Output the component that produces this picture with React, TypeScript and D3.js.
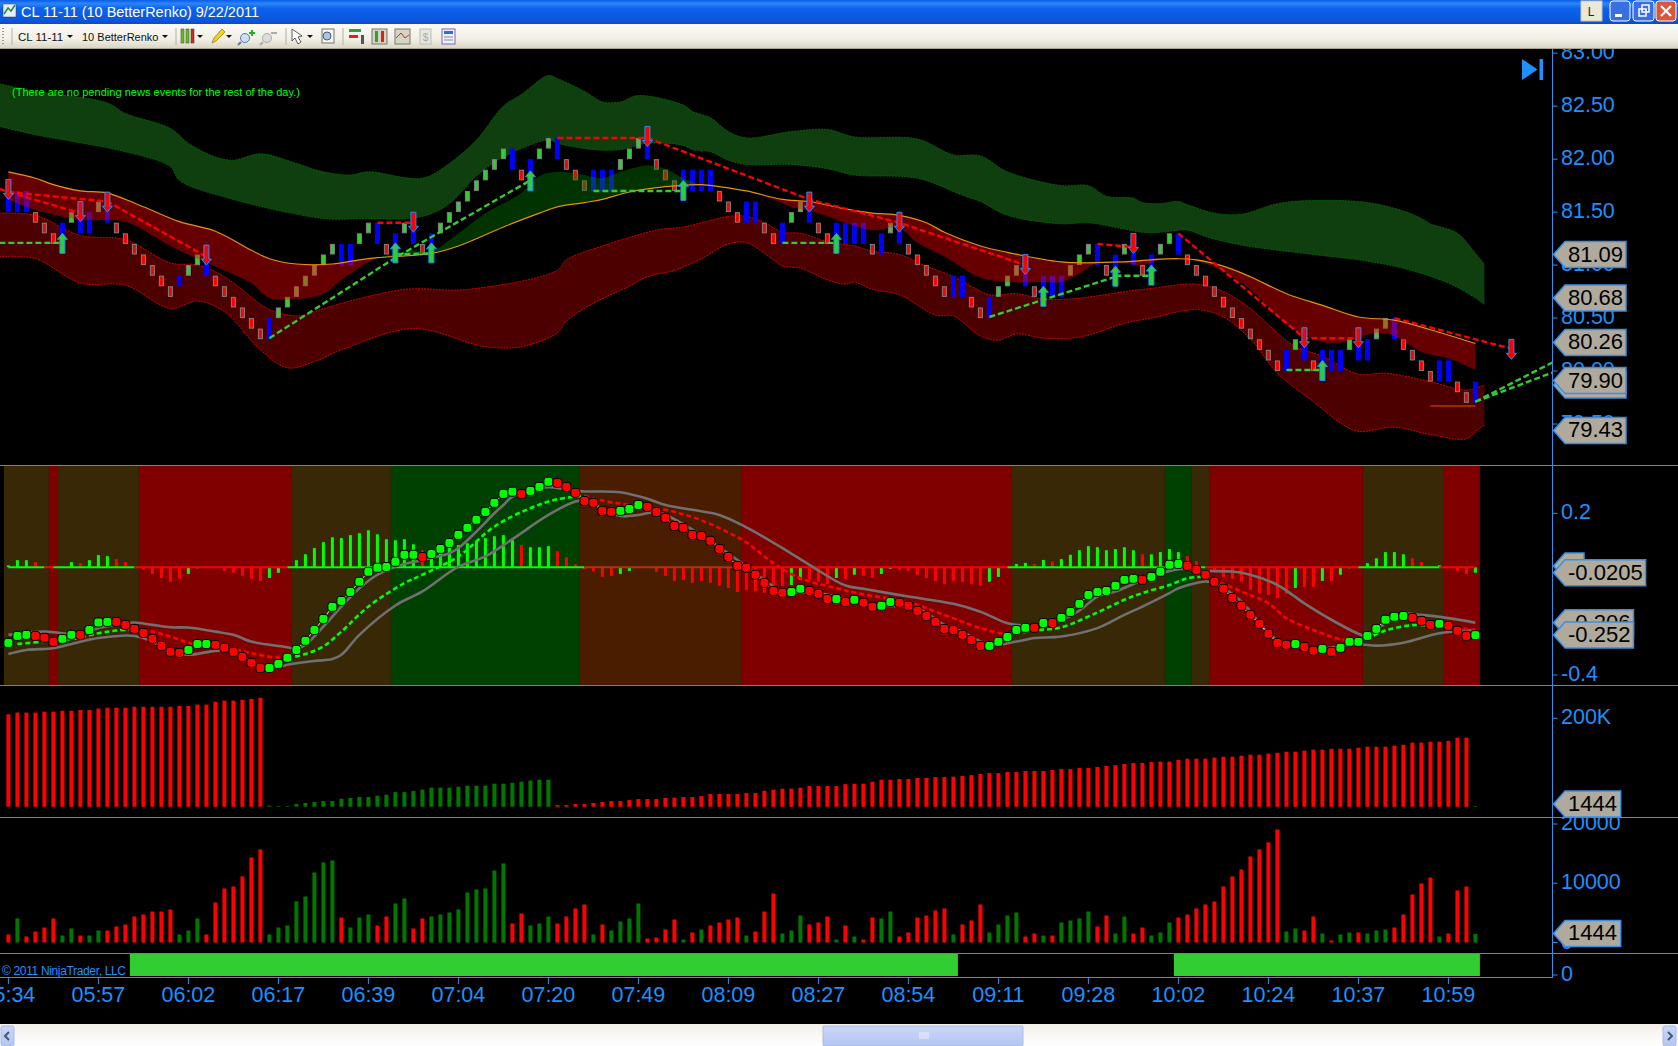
import React from "react";
import { curveCatmullRom, curveLinear, line, scaleLinear } from "d3";

type Anchor = [number, number];

// one letter per renko bar: R red, G green, B blue (two bricks), b blue (one brick)
const brickKinds =
  "BBBRRRBGBB" + "GBRRRRRRRb" + "GGBRRRRRRB" + "GGGGGGGBBG" + "GBRBGBRBGG" + "GGGGGGBRBG" + "GBRRRBBBGG" + "GBRRRBBBBR" +
  "RRBBRRBGGB" + "RRBBBBRBGB" + "RRRRRBBRRB" + "GGGBRBBBGG" + "GBRBGBRBGG" + "BRRRRRRRRR" + "RRBGBRBBBG" + "BBGGBRRRRB" + "BRRB";

const brickHigh = [
  81.7, 81.7, 81.7, 81.5, 81.4, 81.3, 81.4, 81.5, 81.5, 81.5,
  81.6, 81.6, 81.4, 81.3, 81.2, 81.1, 81.0, 80.9, 80.8, 80.9,
  81.0, 81.1, 81.1, 80.9, 80.8, 80.7, 80.6, 80.5, 80.4, 80.5,
  80.6, 80.7, 80.8, 80.9, 81.0, 81.1, 81.2, 81.2, 81.2, 81.3,
  81.4, 81.4, 81.2, 81.3, 81.4, 81.4, 81.2, 81.3, 81.4, 81.5,
  81.6, 81.7, 81.8, 81.9, 82.0, 82.1, 82.1, 81.9, 82.0, 82.1,
  82.2, 82.2, 82.0, 81.9, 81.8, 81.9, 81.9, 81.9, 82.0, 82.1,
  82.2, 82.2, 82.0, 81.9, 81.8, 81.9, 81.9, 81.9, 81.9, 81.7,
  81.6, 81.5, 81.6, 81.6, 81.4, 81.3, 81.4, 81.5, 81.6, 81.6,
  81.4, 81.3, 81.4, 81.4, 81.4, 81.4, 81.2, 81.3, 81.4, 81.4,
  81.2, 81.1, 81.0, 80.9, 80.8, 80.9, 80.9, 80.7, 80.6, 80.7,
  80.8, 80.9, 81.0, 81.0, 80.8, 80.9, 80.9, 80.9, 81.0, 81.1,
  81.2, 81.2, 81.0, 81.1, 81.2, 81.2, 81.0, 81.1, 81.2, 81.3,
  81.3, 81.1, 81.0, 80.9, 80.8, 80.7, 80.6, 80.5, 80.4, 80.3,
  80.2, 80.1, 80.2, 80.3, 80.3, 80.1, 80.2, 80.2, 80.2, 80.3,
  80.3, 80.3, 80.4, 80.5, 80.5, 80.3, 80.2, 80.1, 80.0, 80.1,
  80.1, 79.9, 79.8, 79.9
];

const greenBandTop: Anchor[] = [
  [-1, 82.71], [3, 82.64], [11, 82.53], [13, 82.43], [18, 82.29], [20, 82.15], [23, 82.02], [25, 81.99], [28, 82.05],
  [32, 81.96], [35, 81.88], [38, 81.85], [40, 81.88], [46, 81.82], [49, 81.96], [52, 82.18], [55, 82.5], [57, 82.61],
  [60, 82.79], [61, 82.76], [64, 82.64], [66, 82.54], [68, 82.54], [70, 82.6], [75, 82.51], [76, 82.45], [78, 82.39],
  [80, 82.26], [82, 82.2], [87, 82.26], [91, 82.28], [94, 82.21], [101, 82.19], [105, 82.04], [108, 82.03], [111, 81.88],
  [117, 81.75], [120, 81.75], [122, 81.65], [125, 81.63], [126, 81.59], [128, 81.58], [130, 81.6], [131, 81.57],
  [134, 81.49], [137, 81.48], [141, 81.58], [145, 81.61], [151, 81.59], [155, 81.51], [157, 81.44], [158, 81.39],
  [161, 81.3], [163, 81.11], [164, 81.01]
];
const greenBandBottom: Anchor[] = [
  [-1, 82.31], [3, 82.23], [7, 82.17], [13, 82.07], [18, 81.93], [19, 81.8], [25, 81.62], [35, 81.44], [39, 81.44],
  [46, 81.46], [49, 81.58], [52, 81.84], [55, 82.02], [60, 82.18], [61, 82.15], [65, 82.09], [68, 82.09], [71, 82.15],
  [75, 82.13], [76, 82.09], [78, 82.07], [80, 81.99], [82, 81.95], [87, 81.95], [91, 81.91], [94, 81.85], [101, 81.82],
  [106, 81.66], [108, 81.6], [111, 81.47], [117, 81.39], [120, 81.4], [124, 81.34], [126, 81.31], [128, 81.31],
  [131, 81.33], [133, 81.27], [137, 81.19], [145, 81.1], [150, 81.05], [155, 80.97], [160, 80.83], [163, 80.69], [164, 80.63]
];
const orangeLine: Anchor[] = [
  [0, 81.88], [3, 81.82], [5, 81.76], [8, 81.7], [11, 81.68], [15, 81.55], [19, 81.41], [23, 81.32], [27, 81.14],
  [29, 81.06], [32, 81.01], [36, 81.01], [39, 81.05], [41, 81.07], [47, 81.11], [50, 81.18], [55, 81.36], [59, 81.49],
  [61, 81.55], [64, 81.59], [66, 81.62], [69, 81.69], [73, 81.74], [77, 81.76], [79, 81.74], [82, 81.7], [86, 81.62],
  [89, 81.6], [93, 81.53], [96, 81.49], [99, 81.47], [102, 81.4], [104, 81.31], [108, 81.18], [111, 81.12], [117, 81.03],
  [124, 81.03], [127, 81.05], [130, 81.06], [132, 81.05], [135, 80.99], [138, 80.89], [142, 80.73], [146, 80.62],
  [150, 80.51], [154, 80.48], [158, 80.39], [163, 80.26]
];
const midLine: Anchor[] = [
  [0, 81.62], [3, 81.52], [8, 81.43], [13, 81.41], [18, 81.18], [21, 81.06], [24, 80.95], [27, 80.83], [29, 80.69],
  [32, 80.68], [35, 80.73], [37, 80.86], [40, 81.03], [41, 81.07], [43, 81.11], [45, 81.14], [47, 81.13], [50, 81.3],
  [53, 81.49], [57, 81.68], [59, 81.84], [61, 81.88], [64, 81.85], [66, 81.82], [68, 81.88], [71, 81.94], [73, 81.91],
  [75, 81.82], [77, 81.76], [79, 81.74], [82, 81.7], [85, 81.62], [87, 81.55], [90, 81.49], [93, 81.4], [96, 81.33],
  [99, 81.35], [101, 81.21], [104, 81.08], [108, 80.88], [111, 80.84], [115, 80.84], [117, 80.84], [119, 80.92],
  [121, 81.02], [124, 81.02], [126, 81.0], [128, 81.05], [130, 81.06], [132, 81.04], [135, 80.94], [138, 80.77],
  [142, 80.44], [144, 80.34], [147, 80.26], [149, 80.29], [152, 80.36], [154, 80.33], [157, 80.18], [160, 80.12], [163, 80.01]
];
const redBandTop: Anchor[] = [
  [-1, 81.49], [3, 81.47], [8, 81.28], [13, 81.24], [18, 81.02], [21, 81.0], [24, 80.89], [29, 80.58], [32, 80.52],
  [33, 80.53], [35, 80.59], [44, 80.77], [51, 80.77], [61, 80.95], [62, 81.05], [66, 81.18], [72, 81.33], [75, 81.36],
  [77, 81.4], [80, 81.46], [82, 81.46], [84, 81.4], [86, 81.31], [88, 81.3], [91, 81.22], [94, 81.18], [96, 81.13],
  [99, 81.1], [102, 80.99], [105, 80.89], [107, 80.8], [109, 80.72], [112, 80.73], [115, 80.68], [118, 80.68], [121, 80.71],
  [124, 80.75], [127, 80.78], [132, 80.82], [135, 80.75], [138, 80.59], [141, 80.36], [143, 80.23], [146, 80.14],
  [150, 79.97], [153, 79.98], [158, 79.9], [162, 79.82], [164, 79.87]
];
const redBandBottom: Anchor[] = [
  [-1, 81.08], [3, 81.06], [8, 80.83], [13, 80.81], [18, 80.59], [21, 80.66], [24, 80.56], [28, 80.2], [31, 80.03],
  [34, 80.09], [37, 80.2], [45, 80.4], [53, 80.23], [57, 80.23], [61, 80.36], [62, 80.47], [65, 80.64], [69, 80.8],
  [71, 80.89], [74, 80.95], [77, 81.06], [80, 81.2], [82, 81.21], [85, 81.05], [86, 80.99], [88, 80.97], [91, 80.86],
  [93, 80.82], [94, 80.84], [96, 80.77], [99, 80.72], [103, 80.53], [105, 80.52], [108, 80.33], [110, 80.29], [112, 80.35],
  [115, 80.31], [119, 80.32], [124, 80.45], [127, 80.5], [132, 80.58], [135, 80.51], [138, 80.3], [141, 79.98], [145, 79.71],
  [148, 79.51], [150, 79.43], [154, 79.47], [158, 79.4], [162, 79.36], [163, 79.43], [164, 79.49]
];

const redTrends: Anchor[][] = [
  [[-1, 81.72], [0, 81.69], [11, 81.6], [22, 81.08]],
  [[0, 81.69], [8, 81.49]],
  [[41, 81.4], [45, 81.4]],
  [[61, 82.2], [71, 82.2], [89, 81.62], [99, 81.4], [113, 81.0]],
  [[121, 81.2], [125, 81.17]],
  [[130, 81.3], [144, 80.31], [150, 80.31]],
  [[154, 80.5], [167, 80.21]]
];
const greenTrends: Anchor[][] = [
  [[-1, 81.21], [6, 81.21]],
  [[29, 80.31], [43, 81.07], [58, 81.8]],
  [[43, 81.1], [47, 81.11]],
  [[65, 81.7], [75, 81.7]],
  [[86, 81.21], [92, 81.21]],
  [[109, 80.51], [123, 80.89]],
  [[123, 80.9], [127, 80.9]],
  [[142, 80.01], [146, 80.01]],
  [[163, 79.71], [172, 80.1]],
  [[163, 79.71], [172, 80.0]]
];
const stopLine: Anchor[] = [[158, 79.67], [163, 79.67]];
const downArrows: Anchor[] = [
  [0, 81.62], [8, 81.41], [11, 81.5], [22, 81.0], [45, 81.31], [71, 82.12], [89, 81.5], [99, 81.31], [113, 80.91],
  [125, 81.11], [144, 80.22], [150, 80.22], [167, 80.11]
];
const upArrows: Anchor[] = [
  [6, 81.3], [43, 81.21], [47, 81.21], [58, 81.89], [75, 81.8], [92, 81.3], [115, 80.8], [123, 80.99], [127, 81.0], [146, 80.1]
];

// oscillator panel, values in thousandths
const regionStarts = [0, 5, 6, 15, 32, 43, 64, 82, 112, 129, 132, 134, 151, 160, 164];
const regionKinds = ["olive", "red", "olive", "red", "olive", "green", "brown", "red", "olive", "green", "olive", "red", "olive", "red"];

const oscUp =
  "GGGRRRGGRG" + "GGRRRRRRRR" + "GGGRRRRRRG" + "GGGGGGGGGG" + "GGGGGGRGGG" + "GGGGGGGRGG" + "GRRRRRRRGG" + "GRRRRRRRRR" +
  "RRRRRRRGGR" + "RRGRGRRGGR" + "RRRRRRRRRG" + "GGGGRGRGGG" + "GGGGGGRGGG" + "GRRRRRRRRR" + "RRRGRRGRGG" + "GGGGGGRRRG" + "RRRG";

const oscDots = [
  -281, -255, -251, -255, -262, -277, -266, -251, -251, -233,
  -205, -203, -203, -214, -229, -244, -266, -292, -314, -318,
  -307, -285, -285, -288, -299, -314, -333, -355, -374, -374,
  -359, -336, -307, -273, -233, -192, -147, -125, -92, -54,
  -17, -2, 1, 20, 46, 46, 38, 49, 68, 90,
  120, 146, 176, 205, 239, 272, 280, 272, 283, 298,
  317, 313, 298, 276, 246, 239, 209, 205, 209, 216,
  231, 224, 205, 183, 153, 146, 120, 116, 98, 68,
  38, 5, -2, -28, -58, -88, -95, -92, -80, -88,
  -99, -118, -118, -129, -121, -132, -147, -143, -129, -132,
  -143, -162, -181, -203, -229, -233, -251, -270, -292, -292,
  -277, -259, -233, -225, -225, -207, -207, -188, -166, -136,
  -103, -92, -88, -69, -47, -43, -47, -36, -17, 9,
  12, 5, -10, -28, -54, -80, -114, -143, -177, -210,
  -247, -281, -288, -285, -296, -310, -303, -314, -299, -277,
  -277, -255, -229, -195, -184, -181, -188, -199, -214, -210,
  -218, -236, -255, -252
];

const oscHist = [
  7, 26, 26, 19, 2, 0, 2, 19, 15, 26,
  45, 41, 30, 19, 0, -10, -25, -40, -54, -43,
  -25, -4, 0, 0, -14, -21, -32, -43, -51, -40,
  -21, 0, 26, 48, 71, 93, 111, 108, 119, 126,
  137, 122, 104, 100, 104, 85, 63, 48, 52, 71,
  82, 89, 96, 108, 115, 119, 104, 82, 74, 74,
  78, 59, 37, 11, -7, -15, -36, -32, -25, -14,
  0, -2, -17, -32, -51, -47, -58, -51, -58, -69,
  -77, -92, -84, -88, -95, -95, -69, -66, -47, -45,
  -54, -62, -40, -43, -28, -32, -40, -25, -6, -10,
  -14, -28, -40, -51, -62, -51, -54, -62, -69, -54,
  -36, 0, 12, 16, 12, 27, 21, 30, 46, 63,
  78, 74, 63, 67, 74, 63, 48, 48, 56, 67,
  56, 41, 22, 0, -10, -36, -43, -54, -84, -95,
  -103, -114, -99, -77, -73, -73, -51, -51, -28, -4,
  0, 15, 33, 56, 56, 48, 33, 19, 2, 7,
  0, -14, -25, -20.5
];

const upperGray: Anchor[] = [
  [0, -251], [4, -239], [6, -245], [8, -251], [10, -226], [13, -208], [14, -205], [16, -214], [18, -223], [20, -224],
  [23, -239], [25, -251], [27, -276], [29, -288], [31, -297], [32, -304], [33, -288], [35, -220], [37, -146], [39, -78],
  [41, -28], [43, 2], [46, 27], [49, 52], [50, 71], [52, 132], [54, 200], [55, 231], [56, 262], [58, 285], [60, 297],
  [62, 289], [64, 281], [65, 281], [68, 278], [71, 254], [73, 231], [76, 213], [79, 194], [82, 148], [86, 71], [89, 9],
  [93, -68], [95, -80], [100, -109], [105, -136], [108, -165], [111, -208], [113, -216], [116, -208], [119, -161],
  [121, -109], [123, -90], [127, -35], [130, -7], [133, -14], [136, -16], [138, -28], [141, -66], [144, -134], [147, -195],
  [150, -247], [151, -257], [153, -208], [155, -173], [157, -177], [160, -189], [163, -206]
];
const lowerGray: Anchor[] = [
  [0, -322], [2, -307], [5, -301], [7, -285], [10, -263], [14, -255], [16, -276], [18, -317], [20, -325], [24, -309],
  [26, -332], [28, -369], [30, -371], [31, -362], [34, -348], [36, -341], [37, -325], [39, -251], [43, -142], [46, -90],
  [50, 2], [53, 40], [56, 104], [60, 194], [63, 244], [64, 246], [68, 190], [70, 194], [72, 205], [74, 178], [79, 74],
  [82, 2], [84, -47], [86, -90], [90, -96], [96, -140], [101, -152], [104, -214], [106, -239], [109, -288], [112, -276],
  [114, -263], [117, -257], [121, -226], [124, -177], [126, -146], [129, -96], [130, -78], [133, -53], [134, -59],
  [137, -127], [140, -245], [142, -288], [146, -301], [150, -286], [152, -291], [155, -280], [159, -245], [163, -233]
];
const signalLine: Anchor[] = [
  [1, -285], [4, -276], [7, -267], [10, -245], [12, -235], [14, -229], [16, -239], [18, -257], [20, -280], [24, -297],
  [27, -319], [29, -332], [31, -338], [33, -322], [35, -294], [37, -239], [40, -146], [44, -59], [46, -28], [50, 40],
  [54, 151], [58, 219], [61, 252], [64, 265], [66, 247], [69, 231], [73, 213], [76, 186], [79, 145], [82, 92], [85, 15],
  [88, -41], [92, -78], [95, -101], [100, -130], [104, -177], [108, -226], [111, -251], [114, -235], [117, -223], [121, -168],
  [124, -121], [126, -96], [129, -66], [131, -41], [133, -35], [137, -90], [140, -134], [142, -189], [145, -233], [148, -267],
  [150, -270], [151, -263], [153, -235], [156, -215], [159, -218], [163, -233]
];
const signalRuns: [number, number, string][] = [
  [1, 14, "#00ff00"], [14, 31, "#ff0000"], [31, 64, "#00ff00"], [64, 111, "#ff0000"],
  [111, 133, "#00ff00"], [133, 150, "#ff0000"], [150, 159, "#00ff00"], [159, 163, "#ff0000"]
];
const zeroRuns: [number, number, string][] = [
  [0, 4, "#00ff00"], [4, 5, "#ff0000"], [5, 14, "#00ff00"], [14, 31, "#ff0000"], [31, 64, "#00ff00"], [64, 82, "#b03400"],
  [82, 111, "#ff0000"], [111, 133, "#00ff00"], [133, 150, "#ff0000"], [150, 159, "#00ff00"], [159, 163, "#ff0000"]
];

// cumulative delta panel, thousands
const deltaTotals = [
  209, 213, 213, 213, 215, 215, 217, 217, 219, 219, 222, 224, 224, 224, 226, 226, 226, 226, 226, 228, 228, 231, 231, 237.5, 240, 240, 242, 244, 246.6,
  2.3, 1.5, 1.5, 6, 8.3, 10.6, 12.8, 12.8, 18, 19.6, 21.9, 21.9, 25, 27, 33, 33, 35.4, 38.5, 43, 43, 43, 45, 47.5, 47.5, 47.5, 52, 52, 54, 56.5, 59, 61, 61,
  3.8,
  3.8, 6, 6, 8.3, 10.6, 12.8, 12.8, 15, 17.3, 17.3, 17.3, 19.6, 20.4, 21.9, 21.9, 24, 28.7, 28.7, 28.7, 28.7,
  31, 31, 36, 38.5, 40.7, 40.7, 43, 46.7, 46.7, 46.7, 46.7, 51, 52, 52, 56.5, 61, 61, 62.6, 62.6, 65,
  65, 67, 67, 68, 69.4, 71.6, 74, 76, 76, 78.4, 78.4, 80.7, 80.7, 80.7, 83, 85, 85, 87.5, 87.5, 90,
  92, 94, 96.5, 99, 99, 101,
  102, 102, 106, 108.6, 108.6, 108.6, 111, 113, 113, 115.4, 117.6, 117.6, 120, 122, 124.4, 124.4, 126.7, 129, 129, 131, 131, 131,
  133.5, 135.7, 135.7, 135.7, 138, 140, 145, 145, 147, 147, 149, 156, 156, 1.44
];
const deltaGreenFrom = 29;
const deltaGreenTo = 60;

const volumes = [
  1351, 4054, 1013, 1858, 2534, 4054, 1182, 2365, 1182, 1182,
  2027, 2027, 2702, 3040, 4391, 4729, 5236, 5236, 5574, 1351,
  2027, 4054, 1351, 6756, 9121, 9458, 11147, 14357, 15708, 1351,
  2534, 2871, 6925, 7769, 11823, 13512, 13850, 4222, 2534, 4222,
  4729, 2871, 4391, 6587, 7432, 2365, 4054, 4391, 4729, 5067,
  5574, 8445, 8952, 9121, 12161, 13343, 3209, 4898, 2871, 3209,
  4391, 3209, 4391, 5743, 6418, 1351, 3040, 2027, 3547, 4054,
  6587, 676, 845, 2196, 3885, 507, 1689, 2196, 2871, 3378,
  3885, 4222, 1182, 1858, 5236, 8276, 1520, 2027, 4560, 3040,
  3378, 4391, 507, 2871, 1013, 507, 4222, 4054, 5236, 1013,
  1689, 4222, 4560, 5405, 5743, 1351, 3040, 3716, 6418, 1689,
  3040, 4560, 5067, 1013, 1520, 1182, 1182, 3378, 3716, 4054,
  5236, 2702, 4560, 1520, 4391, 1520, 2534, 1182, 1689, 3378,
  4222, 4729, 5743, 6418, 6925, 9458, 11147, 12330, 14525, 15708,
  16890, 19086, 1858, 2365, 2027, 4391, 1520, 338, 1351, 1689,
  1689, 1520, 2027, 2196, 2534, 4729, 8107, 9965, 10979, 1013,
  1520, 8783, 9458, 1444
];
const volumeKinds =
  "RGRRRRGGRG" + "GRRRRRRRRG" + "GGRRRRRRRG" + "GGGGGGGRGG" + "GRRGGRRGGG" + "GGGGGGRRGG" + "GRRRRGRGGG" + "GRRRRGRGRR" +
  "RRGRRRGGGR" + "RRGRGRRGGR" + "RRRRRGRRRG" + "GGGRRGRGGG" + "GRRGGRRGGG" + "RRRRRRRRRR" + "RRGGRRGRGG" + "RGGGRRRRRG" + "RRRG";

const sessionRuns: [number, number][] = [[14, 106], [130, 164]];

const timeLabels = ["05:34", "05:57", "06:02", "06:17", "06:39", "07:04", "07:20", "07:49", "08:09", "08:27", "08:54", "09:11", "09:28", "10:02", "10:24", "10:37", "10:59"];
const priceTicks = [83, 82.5, 82, 81.5, 81, 80.5, 80, 79.5];
const oscTicks = [200, -400];
const priceTags = [81.09, 80.68, 80.26, 79.9, 79.43];

const FONT = '"Liberation Sans", Arial, sans-serif';
const AXIS = "#1e90ff";
const RULE = "#3a8ee6";
const AXIS_X = 1552.5;

const x = scaleLinear().domain([0, 163]).range([8.4, 1475.4]);
const priceY = scaleLinear().domain([79.5, 83]).range([424, 53.2]);
const oscY = scaleLinear().domain([-400, 200]).range([675, 513.3]);
const deltaY = scaleLinear().domain([0, 200]).range([806.7, 718.3]);
const volY = scaleLinear().domain([0, 20000]).range([942.5, 824]);

const smoothPrice = line<Anchor>().x(d => x(d[0])).y(d => priceY(d[1])).curve(curveCatmullRom.alpha(0.5));
const straightPrice = line<Anchor>().x(d => x(d[0])).y(d => priceY(d[1])).curve(curveLinear);
const smoothOsc = line<Anchor>().x(d => x(d[0])).y(d => oscY(d[1])).curve(curveCatmullRom.alpha(0.5));

function band(top: Anchor[], bottom: Anchor[]) {
  return smoothPrice(top) + "L" + smoothPrice([...bottom].reverse())!.slice(1) + "Z";
}
function span(a: Anchor[], from: number, to: number) {
  return a.filter(d => d[0] >= from && d[0] <= to);
}

const regionColor: Record<string, string> = { olive: "#382806", red: "#800000", green: "#004000", brown: "#4a1c00" };

const Tag: React.FC<{ cy: number; right: number; text?: string }> = ({ cy, right, text }) => (
  <g>
    <path
      d={`M${AXIS_X + 1},${cy} L1565,${cy - 13} L${right},${cy - 13} L${right},${cy + 13} L1565,${cy + 13} Z`}
      fill="#b0aa9c"
      stroke={RULE}
      strokeWidth={1.5}
    />
    {text && (
      <text x={1568} y={cy + 7} fontSize={22} fontFamily={FONT} fill="#000">
        {text}
      </text>
    )}
  </g>
);

const AxisLabel: React.FC<{ y: number; text: string }> = ({ y, text }) => (
  <g>
    <line x1={AXIS_X} x2={AXIS_X + 5} y1={y} y2={y} stroke={RULE} />
    <text x={1561} y={y + 6} fontSize={21.5} fontFamily={FONT} fill={AXIS}>
      {text}
    </text>
  </g>
);

const Toolbar: React.FC = () => (
  <g>
    <rect x={0} y={0} width={1678} height={24} fill="url(#titleGrad)" />
    <rect x={3} y={4} width={13} height={13} fill="#e8eef8" stroke="#345" strokeWidth={0.5} />
    <path d="M4,14 L8,8 L11,11 L15,5" fill="none" stroke="#2a8a3a" strokeWidth={1.5} />
    <text x={21} y={17} fontSize={14.5} fontFamily={FONT} fill="#fff" textLength={238} lengthAdjust="spacing">
      CL 11-11 (10 BetterRenko)  9/22/2011
    </text>
    <rect x={1581} y={1} width={21} height={20} fill="#ece8d8" stroke="#c8c4b4" />
    <text x={1591} y={16} fontSize={12} fontFamily={FONT} fill="#222" textAnchor="middle">L</text>
    <rect x={1610} y={1} width={20} height={20} rx={3} fill="#3a6fe0" stroke="#fff" />
    <rect x={1615} y={14} width={7} height={3} fill="#fff" />
    <rect x={1633} y={1} width={21} height={20} rx={3} fill="#3a6fe0" stroke="#fff" />
    <rect x={1639} y={9} width={7} height={7} fill="none" stroke="#fff" strokeWidth={1.5} />
    <rect x={1642} y={5} width={7} height={7} fill="none" stroke="#fff" strokeWidth={1.5} />
    <rect x={1656} y={1} width={20} height={20} rx={3} fill="#d9583a" stroke="#fff" />
    <path d="M1661,6 L1671,16 M1671,6 L1661,16" stroke="#fff" strokeWidth={2.2} />

    <rect x={0} y={24} width={1678} height={25} fill="url(#barGrad)" />
    <line x1={0} x2={1678} y1={48.5} y2={48.5} stroke="#a8a490" />
    <path d="M3,28 V44" stroke="#999" strokeDasharray="1,2" strokeWidth={2} />
    {[12, 176, 286, 343].map(s => (
      <line key={s} x1={s} x2={s} y1={28} y2={45} stroke="#b4b0a0" />
    ))}
    <text x={18} y={41} fontSize={11.5} fontFamily={FONT} fill="#111">CL 11-11</text>
    <text x={82} y={41} fontSize={11} fontFamily={FONT} fill="#111">10 BetterRenko</text>
    {[70, 165, 200, 229, 310].map(s => (
      <path key={s} d={`M${s - 3},35 h6 l-3,3 Z`} fill="#111" />
    ))}
    <rect x={181} y={29} width={3} height={14} fill="#6cc21e" stroke="#333" strokeWidth={0.5} />
    <rect x={186} y={29} width={3} height={14} fill="#6cc21e" stroke="#333" strokeWidth={0.5} />
    <rect x={191} y={29} width={3} height={14} fill="#e02020" stroke="#333" strokeWidth={0.5} />
    <path d="M212,43 L214,38 L222,29 L225,32 L216,41 Z" fill="#f2d020" stroke="#8a7010" strokeWidth={0.7} />
    <circle cx={245} cy={38} r={4.5} fill="#cfe0f4" stroke="#5a7aa0" />
    <path d="M241,42 L238,45" stroke="#5a7aa0" strokeWidth={2} />
    <path d="M249,33 h6 M252,30 v6" stroke="#20b020" strokeWidth={2} />
    <circle cx={267} cy={38} r={4.5} fill="#ddd" stroke="#aaa" />
    <path d="M263,42 L260,45" stroke="#aaa" strokeWidth={2} />
    <path d="M271,33 h6" stroke="#aaa" strokeWidth={2} />
    <path d="M292,29 L292,41 L295,38 L298,44 L301,42 L298,37 L302,36 Z" fill="#fff" stroke="#333" strokeWidth={0.8} />
    <rect x={322} y={29} width={12} height={14} fill="#f4f4ee" stroke="#777" />
    <circle cx={327} cy={36} r={4} fill="#aac6e6" stroke="#557" />
    <rect x={349} y={29} width={12} height={3} fill="#30a030" />
    <rect x={349} y={35} width={9} height={3} fill="#e02020" />
    <rect x={361} y={35} width={3} height={9} fill="#555" />
    <rect x={372} y={29} width={15} height={15} fill="#d8d4c4" stroke="#777" />
    <rect x={375} y={31} width={3} height={11} fill="#30a030" />
    <rect x={381} y={31} width={3} height={11} fill="#e02020" />
    <rect x={395} y={29} width={15} height={15} fill="#d8d4c4" stroke="#777" />
    <path d="M396,38 L401,33 L405,38 L409,35" fill="none" stroke="#c03030" />
    <rect x={420} y={29} width={11} height={15} fill="#e8e6dc" stroke="#bbb" />
    <text x={425.5} y={41} fontSize={10} fontFamily={FONT} fill="#aaa" textAnchor="middle">$</text>
    <rect x={442} y={29} width={13} height={15} fill="#f0f0f8" stroke="#8060c0" />
    <rect x={444} y={31} width={9} height={3} fill="#3070c0" />
    <path d="M444,37 h9 M444,40 h9" stroke="#8888aa" />
  </g>
);

const PricePanel: React.FC = () => {
  const headHalf = 5;
  const shaftHalf = 2.5;
  const wing = headHalf - shaftHalf;
  return (
    <g clipPath="url(#priceClip)">
      <path d={band(greenBandTop, greenBandBottom)} fill="#32cd32" fillOpacity={0.3} />
      <path d={smoothPrice(greenBandTop)!} fill="none" stroke="#006400" strokeDasharray="2,1" />
      <path d={smoothPrice(greenBandBottom)!} fill="none" stroke="#006400" strokeDasharray="2,1" />
      <path d={band(redBandTop, redBandBottom)} fill="#ff0000" fillOpacity={0.3} />
      <path d={smoothPrice(redBandTop)!} fill="none" stroke="#d00000" strokeDasharray="2,1" />
      <path d={smoothPrice(redBandBottom)!} fill="none" stroke="#d00000" strokeDasharray="2,1" />

      {brickHigh.map((h, i) => {
        const kind = brickKinds[i];
        const size = kind === "B" ? 0.2 : 0.1;
        const y0 = priceY(h);
        const y1 = priceY(h - size);
        if (kind === "B" || kind === "b") {
          return <rect key={i} x={x(i) - 2.5} y={y0} width={5} height={y1 - y0} fill="#0000ff" />;
        }
        return (
          <rect
            key={i}
            x={x(i) - 2}
            y={y0 + 0.5}
            width={4}
            height={y1 - y0 - 1}
            fill={kind === "R" ? "#ff0000" : "#32cd32"}
            stroke="#808080"
          />
        );
      })}

      <path d={band(span(orangeLine, 0, 41), span(midLine, 0, 41))} fill="#ff0000" fillOpacity={0.4} />
      <path d={band(span(orangeLine, 41, 79), span(midLine, 41, 79))} fill="#008000" fillOpacity={0.4} />
      <path d={band(span(orangeLine, 79, 130), span(midLine, 79, 130))} fill="#ff0000" fillOpacity={0.4} />
      <path d={band(span(orangeLine, 130, 163), span(midLine, 130, 163))} fill="#ff0000" fillOpacity={0.4} />
      <path d={smoothPrice(orangeLine)!} fill="none" stroke="#e8900c" strokeWidth={1.2} />

      <path d={straightPrice(stopLine)!} fill="none" stroke="#ff4500" />
      {redTrends.map((t, i) => (
        <path key={i} d={straightPrice(t)!} fill="none" stroke="#ff0000" strokeWidth={2.4} strokeDasharray="6,3" />
      ))}
      {greenTrends.map((t, i) => (
        <path key={i} d={straightPrice(t)!} fill="none" stroke="#32cd32" strokeWidth={2.4} strokeDasharray="6,3" />
      ))}

      {downArrows.map(([b, p]) => {
        const cx = x(b);
        const tip = priceY(p);
        return (
          <path
            key={b}
            d={`M${cx},${tip} l${-headHalf},-6 h${wing} v-14 h${shaftHalf * 2} v14 h${wing} Z`}
            fill="#ff0000"
            stroke={AXIS}
          />
        );
      })}
      {upArrows.map(([b, p]) => {
        const cx = x(b);
        const tip = priceY(p);
        return (
          <path
            key={b}
            d={`M${cx},${tip} l${-headHalf},6 h${wing} v14 h${shaftHalf * 2} v-14 h${wing} Z`}
            fill="#32cd32"
            stroke={AXIS}
          />
        );
      })}

      <text x={12} y={96} fontSize={11} fontFamily={FONT} fill="#00ff00" textLength={288} lengthAdjust="spacing">
        (There are no pending news events for the rest of the day.)
      </text>
      <path d="M1522,59 L1537.5,69.5 L1522,80 Z" fill={AXIS} />
      <rect x={1539.5} y={59} width={3.5} height={21} fill={AXIS} />
    </g>
  );
};

const OscillatorPanel: React.FC = () => (
  <g>
    {regionKinds.map((k, i) => (
      <rect
        key={i}
        x={x(regionStarts[i]) - 4.5}
        width={x(regionStarts[i + 1]) - x(regionStarts[i])}
        y={466}
        height={219}
        fill={regionColor[k]}
      />
    ))}
    {oscHist.map((v, i) => (
      <rect
        key={i}
        x={x(i) - 1.5}
        width={3}
        y={Math.min(oscY(v), oscY(0))}
        height={Math.abs(oscY(v) - oscY(0))}
        fill={oscUp[i] === "G" ? "#00ff00" : "#ff0000"}
      />
    ))}
    {zeroRuns.map(([a, b, c], i) => (
      <line key={i} x1={x(a)} x2={x(b)} y1={oscY(0)} y2={oscY(0)} stroke={c} strokeWidth={2} />
    ))}
    <path d={smoothOsc(upperGray)!} fill="none" stroke="#707070" strokeWidth={2.6} />
    <path d={smoothOsc(lowerGray)!} fill="none" stroke="#707070" strokeWidth={2.6} />
    {signalRuns.map(([a, b, c], i) => (
      <path key={i} d={smoothOsc(span(signalLine, a, b))!} fill="none" stroke={c} strokeWidth={2.6} strokeDasharray="5,3" />
    ))}
    <path
      d={line<number>().x((_, i) => x(i)).y(v => oscY(v))(oscDots)!}
      fill="none"
      stroke="#e8e8e8"
      strokeWidth={1}
    />
    {oscDots.map((v, i) => (
      <rect
        key={i}
        x={x(i) - 4.5}
        y={oscY(v) - 4.5}
        width={9}
        height={9}
        rx={2.8}
        fill={oscUp[i] === "G" ? "#00ff00" : "#ff0000"}
        stroke="#000"
      />
    ))}
  </g>
);

const App: React.FC = () => {
  const xTicks = timeLabels.map((_, i) => i * 10);
  return (
    <svg
      width={1678}
      height={1046}
      style={{ position: "fixed", left: 0, top: 0, background: "#000", display: "block" }}
    >
      <defs>
        <linearGradient id="titleGrad" x1="0" y1="0" x2="0" y2="1">
          <stop offset="0" stopColor="#0a5ce8" />
          <stop offset="0.15" stopColor="#2a86f8" />
          <stop offset="0.35" stopColor="#0d62ec" />
          <stop offset="0.85" stopColor="#0a56dc" />
          <stop offset="1" stopColor="#0a4cc8" />
        </linearGradient>
        <linearGradient id="barGrad" x1="0" y1="0" x2="0" y2="1">
          <stop offset="0" stopColor="#fbfaf6" />
          <stop offset="0.6" stopColor="#f1efe6" />
          <stop offset="1" stopColor="#d8d4c2" />
        </linearGradient>
        <linearGradient id="scrollGrad" x1="0" y1="0" x2="0" y2="1">
          <stop offset="0" stopColor="#f3f0ea" />
          <stop offset="1" stopColor="#ffffff" />
        </linearGradient>
        <linearGradient id="thumbGrad" x1="0" y1="0" x2="0" y2="1">
          <stop offset="0" stopColor="#c8d6f8" />
          <stop offset="1" stopColor="#b4c6f0" />
        </linearGradient>
        <clipPath id="priceClip">
          <rect x={0} y={49} width={AXIS_X} height={416} />
        </clipPath>
        <clipPath id="axisClip">
          <rect x={AXIS_X} y={49} width={130} height={960} />
        </clipPath>
      </defs>

      <PricePanel />
      <OscillatorPanel />

      {deltaTotals.map((v, i) => (
        <rect
          key={i}
          x={x(i) - 2}
          width={4}
          y={deltaY(v)}
          height={deltaY(0) - deltaY(v)}
          fill={i === 163 || (i >= deltaGreenFrom && i <= deltaGreenTo) ? "#007800" : "#ff0000"}
        />
      ))}
      {volumes.map((v, i) => (
        <rect
          key={i}
          x={x(i) - 2}
          width={4}
          y={volY(v)}
          height={volY(0) - volY(v)}
          fill={volumeKinds[i] === "G" ? "#007800" : "#ff0000"}
        />
      ))}
      {sessionRuns.map(([a, b]) => (
        <rect key={a} x={x(a) - 4.5} width={x(b) - x(a)} y={954} height={22} fill="#32cd32" />
      ))}

      <text x={2} y={975} fontSize={12} fontFamily={FONT} fill={AXIS} textLength={124} lengthAdjust="spacing">
        © 2011 NinjaTrader, LLC
      </text>

      <g clipPath="url(#axisClip)">
        {priceTicks.map(t => (
          <AxisLabel key={t} y={priceY(t)} text={t.toFixed(2)} />
        ))}
        {oscTicks.map(t => (
          <AxisLabel key={t} y={oscY(t)} text={(t / 1000).toString()} />
        ))}
        <AxisLabel y={deltaY(200)} text="200K" />
        <AxisLabel y={volY(20000)} text="20000" />
        <AxisLabel y={volY(10000)} text="10000" />
        <AxisLabel y={volY(0)} text="0" />
        <AxisLabel y={975} text="0" />

        {priceTags.map(t => (
          <React.Fragment key={t}>
            {t === 79.9 && <Tag cy={priceY(t) + 3.5} right={1626} />}
            <Tag cy={priceY(t) - 1} right={1626} text={t.toFixed(2)} />
          </React.Fragment>
        ))}
        <Tag cy={566} right={1584} />
        <Tag cy={oscY(-20.5)} right={1645.6} text="-0.0205" />
        <Tag cy={oscY(-206)} right={1633.5} text="-0.206" />
        <Tag cy={oscY(-252)} right={1633.5} text="-0.252" />
        <Tag cy={804} right={1620.7} text="1444" />
        <Tag cy={volY(1444) - 0.5} right={1620.7} text="1444" />
      </g>

      {[465, 685, 817, 953].map(y => (
        <line key={y} x1={0} x2={1678} y1={y + 0.5} y2={y + 0.5} stroke={RULE} />
      ))}
      <line x1={0} x2={AXIS_X} y1={977.5} y2={977.5} stroke={RULE} />
      <line x1={AXIS_X} x2={AXIS_X} y1={49} y2={978} stroke={RULE} />

      {xTicks.map((b, i) => (
        <g key={b}>
          <line x1={x(b)} x2={x(b)} y1={978} y2={984} stroke={RULE} />
          <text x={x(b)} y={1001.5} fontSize={21.5} fontFamily={FONT} fill={AXIS} textAnchor="middle">
            {timeLabels[i]}
          </text>
        </g>
      ))}

      <rect x={0} y={1024} width={1678} height={22} fill="url(#scrollGrad)" />
      <rect x={1} y={1026} width={13} height={20} rx={2} fill="url(#thumbGrad)" stroke="#a8bce8" />
      <path d="M9,1032 L5,1036 L9,1040" fill="none" stroke="#40587a" strokeWidth={2} />
      <rect x={823} y={1026} width={200} height={20} rx={1} fill="url(#thumbGrad)" stroke="#a8bce8" />
      <path d="M920,1032 v7 M922,1032 v7 M924,1032 v7 M926,1032 v7 M928,1032 v7" stroke="#eef2fc" />
      <rect x={1663} y={1026} width={13} height={20} rx={2} fill="url(#thumbGrad)" stroke="#a8bce8" />
      <path d="M1668,1032 L1672,1036 L1668,1040" fill="none" stroke="#40587a" strokeWidth={2} />

      <Toolbar />
    </svg>
  );
};

export default App;
